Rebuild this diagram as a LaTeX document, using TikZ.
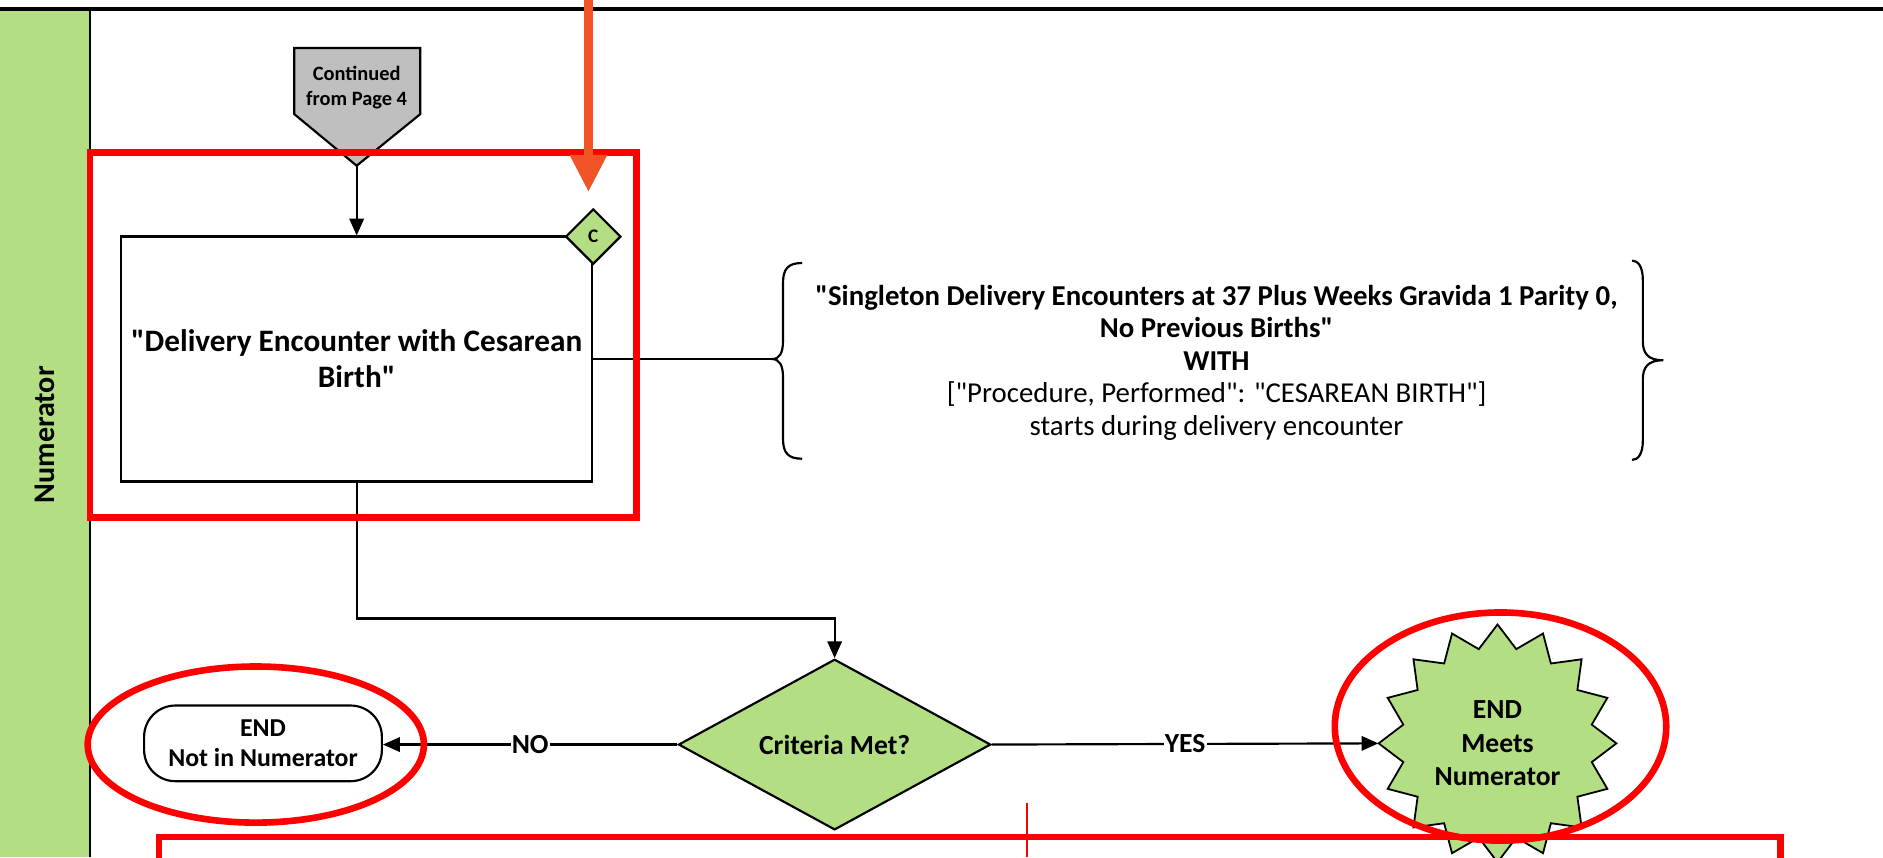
\documentclass[tikz,border=0pt]{standalone}
\usepackage{fontspec}
\setmainfont{Carlito}[Ligatures=TeXOff]
\usetikzlibrary{arrows.meta,shapes.geometric,calc}
\definecolor{lanegreen}{RGB}{179,222,131}
\definecolor{graybox}{RGB}{191,191,191}
\definecolor{redann}{RGB}{255,0,0}
\definecolor{orangeann}{RGB}{240,84,38}
\tikzset{
  ln/.style={line width=1.8pt, black},
  arr/.style={ln, -{Triangle[length=14pt,width=12pt]}},
  redbox/.style={draw=redann, line width=5.5pt, inner sep=0pt},
  fbig/.style={font=\fontsize{26}{30}\selectfont\bfseries},
  fmid/.style={font=\fontsize{24}{27}\selectfont},
  flab/.style={font=\fontsize{23}{26}\selectfont\bfseries},
}
\begin{document}
\begin{tikzpicture}[x=1pt,y=-1pt]
\clip (0,0) rectangle (1568,714);
\useasboundingbox (0,0) rectangle (1568,714);
\fill[white] (0,0) rectangle (1568,714);
% lane
\fill[lanegreen] (0,9) rectangle (75,714);
\draw[ln] (75,9) -- (75,714);
\draw[line width=3pt] (0,7.5) -- (1568,7.5);
\node[rotate=90, font=\fontsize{25}{28}\selectfont\bfseries] (lane) at (37,362) {Numerator};

% off-page connector
\draw[ln, fill=graybox] (245,40) -- (350,40) -- (350,95) -- (297,138) -- (245,95) -- cycle;
\coordinate (contpt) at (297,138);
\node[align=center, font=\fontsize{17}{20.5}\selectfont\bfseries] (cont) at (297,73) {Continued\\from Page 4};

% process box
\node[draw, ln, fill=white, minimum width=392pt, minimum height=204pt, align=center, fbig] (box) at (297,299) {"Delivery Encounter with Cesarean\\Birth"};
\node[diamond, draw, ln, fill=lanegreen, minimum width=46pt, minimum height=46pt, inner sep=0pt, font=\fontsize{16}{18}\selectfont\bfseries] (cd) at (494,197) {C};
\draw[arr] (contpt) -- (box.north);

% braces
\coordinate (lbt) at (643,299);
\draw[ln] (668,219) .. controls (656,219) and (652,224) .. (652,236) -- (652,284)
  .. controls (652,294) and (649,299) .. (lbt)
  .. controls (649,299) and (652,304) .. (652,314) -- (652,365)
  .. controls (652,377) and (656,382) .. (668,382);
\coordinate (rbt) at (1385,300);
\draw[ln] (1359,217) .. controls (1364,217) and (1368,222) .. (1368,233) -- (1368,284)
  .. controls (1368,294) and (1372,300) .. (rbt)
  .. controls (1372,300) and (1368,306) .. (1368,316) -- (1368,367)
  .. controls (1368,378) and (1364,383) .. (1359,383);
\draw[ln] (box.east) -- (lbt);
\node[align=center, fmid] (brtext) at (1013,302) {\textbf{"Singleton Delivery Encounters at 37 Plus Weeks Gravida 1 Parity 0,}\\\textbf{No Previous Births"}\\\textbf{WITH}\\{}["Procedure, Performed": "CESAREAN BIRTH"]\\starts during delivery encounter};

% decision
\node[diamond, draw, ln, fill=lanegreen, minimum width=260pt, minimum height=134pt, inner sep=0pt, flab] (crit) at (695,620) {Criteria Met?};
\draw[arr] (box.south) -- (297,515) -| (crit.north);

% end not in numerator
\node[draw, ln, fill=white, rounded corners=26pt, minimum width=198pt, minimum height=63pt, align=center, font=\fontsize{21.5}{25}\selectfont\bfseries] (notnum) at (219,619) {END\\Not in Numerator};
\draw[arr] (crit.west) -- (crit.west -| notnum.east) node[midway, fill=white, inner sep=1pt, flab] (nolab) {NO};

% starburst
\coordinate (mc) at (1247,619);
\draw[ln, line width=1.5pt, fill=lanegreen] ($(mc)+(99,0)$)
  \foreach \i in {1,...,31} { -- ($(mc)+({\i*11.25}:{ifthenelse(mod(\i,2)==1,80,99)})$) } -- cycle;
\node[circle, minimum size=198pt, inner sep=0pt, align=center, font=\fontsize{23}{28}\selectfont\bfseries] (meets) at (mc) {END\\Meets\\Numerator};
\draw[arr] (crit.east) -- (meets.west) node[midway, fill=white, inner sep=1pt, flab] (yeslab) {YES};

% red annotations
\node[redbox, minimum width=455pt, minimum height=304pt] (ann1) at (302.5,279) {};
\node[ellipse, redbox, minimum width=280pt, minimum height=130pt] (ann2) at (213,620) {};
\node[ellipse, redbox, minimum width=276pt, minimum height=190pt] (ann3) at (1249.5,605) {};
\node[redbox, minimum width=1350pt, minimum height=200pt] (ann4) at (807.5,797) {};
\coordinate (vl1) at (855,669);
\coordinate (vl2) at (855,714);
\draw[redann, line width=2pt] (vl1) -- (vl2);

% orange arrow
\coordinate (oa1) at (490,-5);
\coordinate (oa2) at (490,160);
\draw[orangeann, line width=8pt, -{Triangle[length=31pt,width=29pt]}] (oa1) -- (oa2);
\end{tikzpicture}
\end{document}
